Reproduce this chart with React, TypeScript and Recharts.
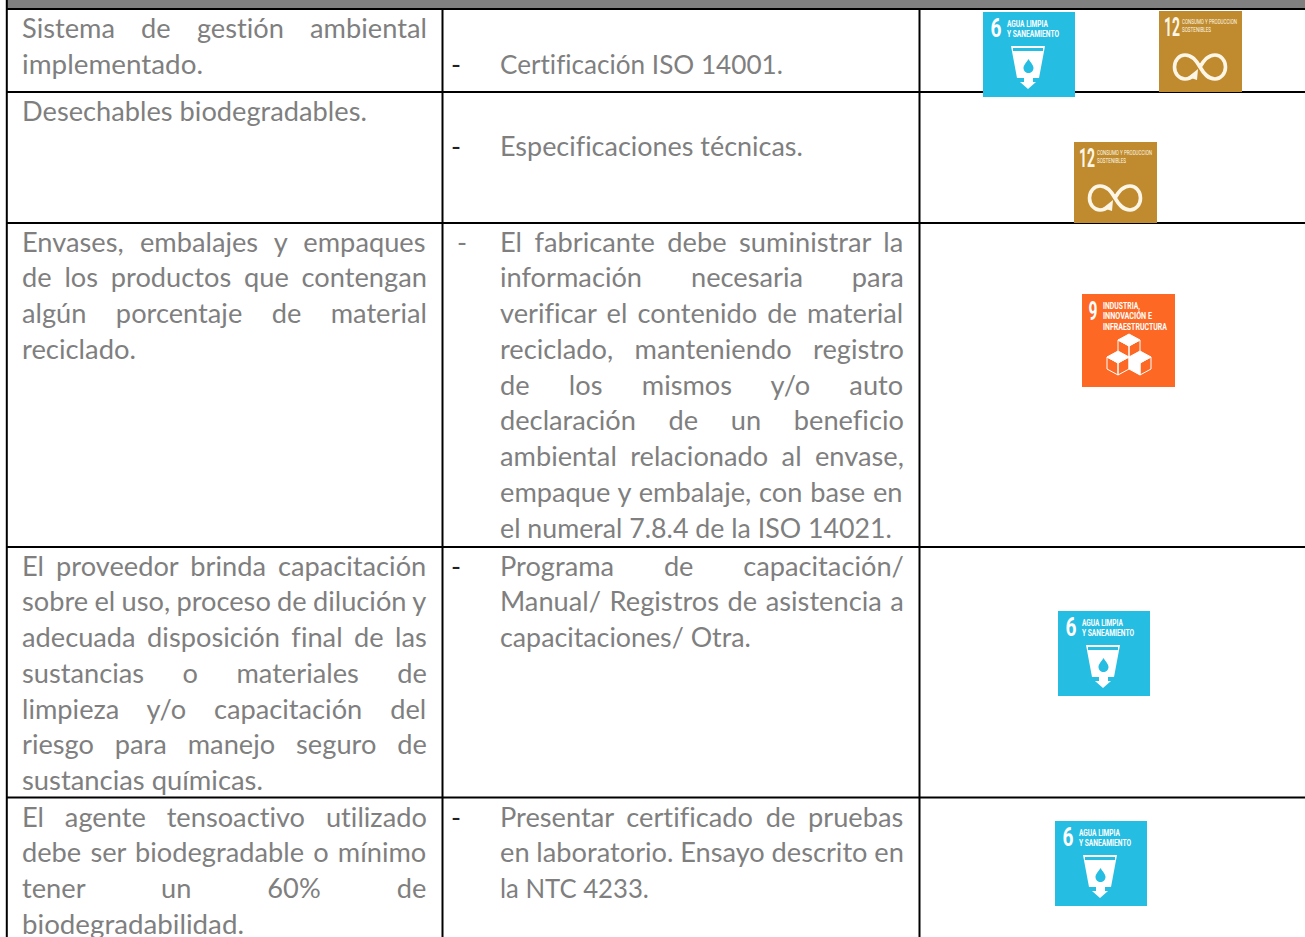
// App.tsx - sustainability criteria table drawn on a Recharts scatter plane
import { ScatterChart, Scatter, XAxis, YAxis, ReferenceLine, ReferenceArea } from "recharts";

document.body.style.margin = "0";

const W = 1305;
const H = 937;
const TEXT_FONT = "Lato";
const TEXT_SIZE = 27;
const TEXT_COLOR = "#7f7f7f";
const BLUE = "#26bde2";
const GOLD = "#bf8b2e";
const ORANGE = "#fd6925";

// top of each row's text block, and the rules drawn between rows
const rowTops = [9.5, 92, 223, 547, 798];
const rowRules = [9, 92, 223, 547, 797.5];
const columnRules = [442.5, 919.5];

// justified = how many leading lines fill the column; lastEnd = right end of the last line
type Cell = { row: number; firstLine: number; justified: number; lastEnd: number; lines: string[] };

const criteriaCells: Cell[] = [
  { row: 0, firstLine: 0, justified: 1, lastEnd: 203, lines: ["Sistema de gestión ambiental", "implementado."] },
  { row: 1, firstLine: 0, justified: 0, lastEnd: 367, lines: ["Desechables biodegradables."] },
  {
    row: 2,
    firstLine: 0,
    justified: 3,
    lastEnd: 136,
    lines: [
      "Envases, embalajes y empaques",
      "de los productos que contengan",
      "algún porcentaje de material",
      "reciclado.",
    ],
  },
  {
    row: 3,
    firstLine: 0,
    justified: 6,
    lastEnd: 263,
    lines: [
      "El proveedor brinda capacitación",
      "sobre el uso, proceso de dilución y",
      "adecuada disposición final de las",
      "sustancias o materiales de",
      "limpieza y/o capacitación del",
      "riesgo para manejo seguro de",
      "sustancias químicas.",
    ],
  },
  {
    row: 4,
    firstLine: 0,
    justified: 3,
    lastEnd: 244,
    lines: [
      "El agente tensoactivo utilizado",
      "debe ser biodegradable o mínimo",
      "tener un 60% de",
      "biodegradabilidad.",
    ],
  },
];

const evidenceCells: Cell[] = [
  { row: 0, firstLine: 1, justified: 0, lastEnd: 783, lines: ["Certificación ISO 14001."] },
  { row: 1, firstLine: 1, justified: 0, lastEnd: 803, lines: ["Especificaciones técnicas."] },
  {
    row: 2,
    firstLine: 0,
    justified: 8,
    lastEnd: 892,
    lines: [
      "El fabricante debe suministrar la",
      "información necesaria para",
      "verificar el contenido de material",
      "reciclado, manteniendo registro",
      "de los mismos y/o auto",
      "declaración de un beneficio",
      "ambiental relacionado al envase,",
      "empaque y embalaje, con base en",
      "el numeral 7.8.4 de la ISO 14021.",
    ],
  },
  {
    row: 3,
    firstLine: 0,
    justified: 2,
    lastEnd: 751,
    lines: ["Programa de capacitación/", "Manual/ Registros de asistencia a", "capacitaciones/ Otra."],
  },
  {
    row: 4,
    firstLine: 0,
    justified: 2,
    lastEnd: 649,
    lines: ["Presentar certificado de pruebas", "en laboratorio. Ensayo descrito en", "la NTC 4233."],
  },
];

// goal number, then where the icon's top-left corner sits
const goalIcons = [
  { goal: 6, x: 983, y: 12 },
  { goal: 12, x: 1159, y: 11 },
  { goal: 12, x: 1074, y: 142 },
  { goal: 9, x: 1082, y: 294 },
  { goal: 6, x: 1058, y: 611 },
  { goal: 6, x: 1055, y: 821 },
];

const canvas = document.createElement("canvas").getContext("2d")!;
function natural(text: string) {
  canvas.font = `${TEXT_SIZE}px ${TEXT_FONT}`;
  canvas.fontVariantCaps = "normal";
  (canvas as any).textRendering = "optimizeSpeed"; // no ligatures while measuring
  return canvas.measureText(text).width;
}
// Lato runs wider than the reference's face, so squeeze it to the same measure
const squeeze = 345 / natural("Desechables biodegradables.");

function lineBase(row: number, line: number) {
  return rowTops[row] + 28.5 + line * 35.75;
}

function toPoints(cells: Cell[], left: number, right: number) {
  return cells.flatMap((c) =>
    c.lines.map((text, i) => ({
      x: left,
      y: lineBase(c.row, c.firstLine + i),
      text,
      fit: i < c.justified ? right - left : 0,
      end: i === c.lines.length - 1 && i >= c.justified ? c.lastEnd - left : 0,
    }))
  );
}

const criteriaPoints = toPoints(criteriaCells, 22, 427);
const evidencePoints = toPoints(evidenceCells, 500, 904);
const dashPoints = [
  { x: 451, y: lineBase(0, 1), color: "#222" },
  { x: 451, y: lineBase(1, 1), color: "#222" },
  { x: 457, y: lineBase(2, 0), color: TEXT_COLOR },
  { x: 451, y: lineBase(3, 0), color: "#222" },
  { x: 451, y: lineBase(4, 0), color: "#222" },
];

function TextLine({ cx, cy, payload }: any) {
  const { text, fit, end } = payload;
  const gaps = text.split(" ").length - 1;
  const spacing = fit ? (fit / squeeze - natural(text)) / gaps : 0;
  const scale = end ? end / natural(text) : squeeze;
  return (
    <text
      transform={`translate(${cx},${cy}) scale(${scale},1)`}
      fontFamily={TEXT_FONT}
      fontSize={TEXT_SIZE}
      fill={TEXT_COLOR}
      style={{ wordSpacing: spacing, fontVariantLigatures: "none" }}
    >
      {text}
    </text>
  );
}

function Dash({ cx, cy, payload }: any) {
  return (
    <text x={cx} y={cy} fontFamily={TEXT_FONT} fontSize={TEXT_SIZE} fill={payload.color}>
      -
    </text>
  );
}

function Label({ x, y, w, size, children, color, weight }: any) {
  return (
    <text
      x={x}
      y={y}
      fontSize={size}
      textLength={w}
      lengthAdjust="spacingAndGlyphs"
      fontFamily="Roboto"
      fontWeight={weight ?? 700}
      fill={color ?? "#fff"}
    >
      {children}
    </text>
  );
}

function Goal6() {
  return (
    <>
      <rect width={92} height={85} fill={BLUE} />
      <Label x={7.5} y={25} w={11} size={26}>6</Label>
      <Label x={24} y={15} w={41} size={9.5}>AGUA LIMPIA</Label>
      <Label x={24} y={25} w={52} size={9.5}>Y SANEAMIENTO</Label>
      <path d="M28 34H62L56 66H50V70H53L45 77 37 70H41V66H34Z" fill="#fff" />
      <rect x={30} y={36} width={30} height={3} fill={BLUE} />
      <path d="M45.5 47C48 51 50.5 53 50.5 56 50.5 59 48 61 45.5 61 43 61 40.5 59 40.5 56 40.5 53 43 51 45.5 47Z" fill={BLUE} />
    </>
  );
}

function Goal12() {
  const cream = "#fdf6e6";
  return (
    <>
      <rect width={83} height={81} fill={GOLD} />
      <Label x={5} y={25} w={16} size={25} color={cream}>12</Label>
      <Label x={23} y={12.5} w={55} size={7} weight={400} color={cream}>CONSUMO Y PRODUCCION</Label>
      <Label x={23} y={21} w={29} size={7} weight={400} color={cream}>SOSTENIBLES</Label>
      <path
        d="M41 56C37 49 33 44 26 44 20 44 15.5 49.5 15.5 56 15.5 62.5 20 68 26 68 30 68 33 66 35 64M41 56C45 63 49 68 56 68 62 68 66.5 62.5 66.5 56 66.5 49.5 62 44 56 44 49 44 45 49 41 56Z"
        fill="none"
        stroke={cream}
        strokeWidth={3.6}
      />
      <path d="M29 66L39 58 38 69Z" fill={cream} />
    </>
  );
}

function Cube({ x, y, leftFill = "none" }: { x: number; y: number; leftFill?: string }) {
  return (
    <g stroke="#fff" strokeWidth={1} strokeLinejoin="round">
      <path d={`M${x} ${y - 12}L${x + 11} ${y - 6}L${x} ${y}L${x - 11} ${y - 6}Z`} fill="#fff" />
      <path d={`M${x - 11} ${y - 6}V${y + 6}L${x} ${y + 12}V${y}Z`} fill={leftFill} />
      <path d={`M${x + 11} ${y - 6}V${y + 6}L${x} ${y + 12}V${y}Z`} fill="none" />
    </g>
  );
}

function Goal9() {
  return (
    <>
      <rect width={93} height={93} fill={ORANGE} />
      <Label x={6.5} y={26} w={9} size={26}>9</Label>
      <Label x={21} y={15} w={37} size={9.5}>INDUSTRIA,</Label>
      <Label x={21} y={25} w={49} size={9.5}>INNOVACIÓN E</Label>
      <Label x={21} y={35.5} w={64} size={9.5}>INFRAESTRUCTURA</Label>
      <Cube x={47} y={52} />
      <Cube x={36} y={69} />
      <Cube x={58} y={69} leftFill="#fff" />
    </>
  );
}

function GoalIcon({ cx, cy, payload }: any) {
  const Icon = payload.goal === 6 ? Goal6 : payload.goal === 12 ? Goal12 : Goal9;
  return (
    <g transform={`translate(${cx},${cy})`}>
      <Icon />
    </g>
  );
}

export default function App() {
  return (
    <div style={{ width: W, height: H, overflow: "hidden", background: "#fff" }}>
      <ScatterChart width={W} height={H} margin={{ top: 0, right: 0, bottom: 0, left: 0 }}>
        <XAxis type="number" dataKey="x" domain={[0, W]} hide />
        <YAxis type="number" dataKey="y" domain={[0, H]} reversed hide width={0} />
        <ReferenceArea x1={7} x2={W} y1={0} y2={8} fill="#808080" fillOpacity={1} stroke="none" />
        {rowRules.map((y) => (
          <ReferenceLine key={y} segment={[{ x: 6, y }, { x: W, y }]} stroke="#000" strokeWidth={2} />
        ))}
        <ReferenceLine x={6.8} stroke="#000" strokeWidth={2} />
        {columnRules.map((x) => (
          <ReferenceLine key={x} segment={[{ x, y: 9 }, { x, y: H }]} stroke="#000" strokeWidth={2} />
        ))}
        <Scatter name="Criterio" data={criteriaPoints} shape={TextLine} isAnimationActive={false} />
        <Scatter name="Verificación" data={evidencePoints} shape={TextLine} isAnimationActive={false} />
        <Scatter name="Guion" data={dashPoints} shape={Dash} isAnimationActive={false} />
        <Scatter name="ODS" data={goalIcons} shape={GoalIcon} isAnimationActive={false} />
      </ScatterChart>
    </div>
  );
}
